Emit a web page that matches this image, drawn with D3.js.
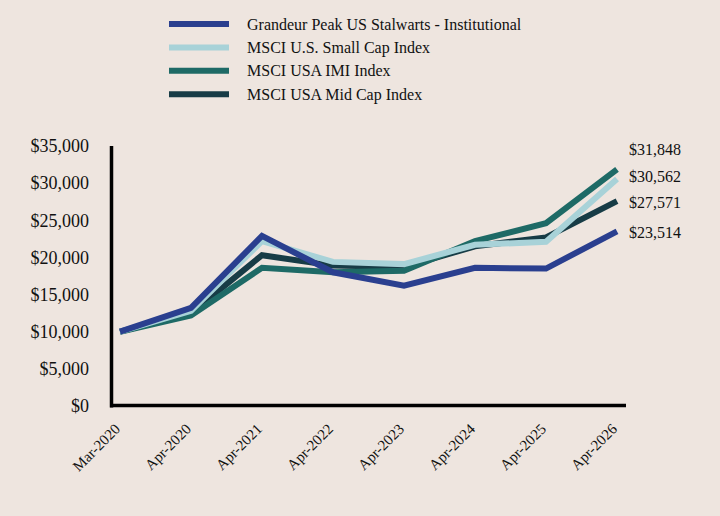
<!DOCTYPE html>
<html lang="en">
<head>
    <meta charset="UTF-8">
    <title>Growth of $10,000</title>
    <style>
        html, body {
            margin: 0;
            padding: 0;
            background: #EEE5DF;
        }
        svg {
            display: block;
            font-family: "Liberation Serif", "Times New Roman", serif;
        }
        .line {
            fill: none;
            stroke-width: 6px;
            stroke-linejoin: miter;
        }
        .axis-line {
            stroke: #000;
            stroke-width: 3.5px;
        }
    </style>
</head>
<body>
<svg width="720" height="516"></svg>

<script src="https://cdn.jsdelivr.net/npm/d3@7"></script>
<script>
    // categories and values
    const dates = ["Mar-2020", "Apr-2020", "Apr-2021", "Apr-2022", "Apr-2023", "Apr-2024", "Apr-2025", "Apr-2026"];
    const seriesNames = [
        "Grandeur Peak US Stalwarts - Institutional",
        "MSCI U.S. Small Cap Index",
        "MSCI USA IMI Index",
        "MSCI USA Mid Cap Index"
    ];
    const stalwarts = [10000, 13200, 22900, 18000, 16200, 18600, 18500, 23514];
    const smallCap  = [10000, 12800, 22200, 19400, 19100, 21700, 22100, 30562];
    const usaImi    = [10000, 12200, 18600, 18000, 18200, 22200, 24600, 31848];
    const midCap    = [10000, 12500, 20300, 18900, 18700, 21500, 22700, 27571];
    const yTicks = [0, 5000, 10000, 15000, 20000, 25000, 30000, 35000];
    const colors = ["#2A3F8F", "#A8D2D8", "#1E6A66", "#173C46"];

    const series = [stalwarts, smallCap, usaImi, midCap];

    const svg = d3.select("svg");

    const x = d3.scalePoint().domain(dates).range([120, 617]);
    const y = d3.scaleLinear().domain([0, 35000]).range([406, 146]);

    const fmt = d3.format("$,");

    // y tick labels
    svg.append("g").selectAll("text")
        .data(yTicks)
        .enter().append("text")
        .attr("x", 89)
        .attr("y", d => y(d))
        .attr("dy", "0.35em")
        .attr("text-anchor", "end")
        .style("font-size", "18px")
        .attr("fill", "#111")
        .text(d => fmt(d));

    // x tick labels
    svg.append("g").selectAll("text")
        .data(dates)
        .enter().append("text")
        .attr("transform", d => `translate(${x(d) + 1},${430}) rotate(-45)`)
        .attr("text-anchor", "end")
        .style("font-size", "15px")
        .attr("fill", "#111")
        .text(d => d);

    // lines, drawn so the fund ends up on top
    const line = d3.line()
        .x((d, i) => x(dates[i]))
        .y(d => y(d));

    const order = [3, 2, 1, 0];
    svg.append("g").selectAll("path")
        .data(order)
        .enter().append("path")
        .attr("class", "line")
        .attr("stroke", i => colors[i])
        .attr("d", i => line(series[i]));

    // axes
    svg.append("line").attr("class", "axis-line")
        .attr("x1", 111.5).attr("x2", 111.5)
        .attr("y1", y(35000)).attr("y2", 407.5);
    svg.append("line").attr("class", "axis-line")
        .attr("x1", 110).attr("x2", 626)
        .attr("y1", 405.5).attr("y2", 405.5);

    // end labels, pushed apart so they don't collide
    const ends = series.map((s, i) => ({ v: s[s.length - 1], pos: y(s[s.length - 1]) }))
        .sort((a, b) => a.v - b.v);
    for (let k = 1; k < ends.length; k++) {
        if (ends[k - 1].pos - ends[k].pos < 26.5) ends[k].pos = ends[k - 1].pos - 26.5;
    }
    svg.append("g").selectAll("text")
        .data(ends)
        .enter().append("text")
        .attr("x", 629)
        .attr("y", d => d.pos + 1.5)
        .attr("dy", "0.35em")
        .style("font-size", "16px")
        .attr("fill", "#111")
        .text(d => fmt(d.v));

    // legend
    const legend = svg.append("g").selectAll("g")
        .data(seriesNames)
        .enter().append("g")
        .attr("transform", (d, i) => `translate(169,${24 + i * 23.4})`);

    legend.append("line")
        .attr("x1", 0).attr("x2", 60)
        .attr("stroke", (d, i) => colors[i])
        .attr("stroke-width", 6);

    legend.append("text")
        .attr("x", 78)
        .attr("dy", "0.35em")
        .style("font-size", "16px")
        .attr("fill", "#111")
        .text(d => d);
</script>
</body>
</html>
